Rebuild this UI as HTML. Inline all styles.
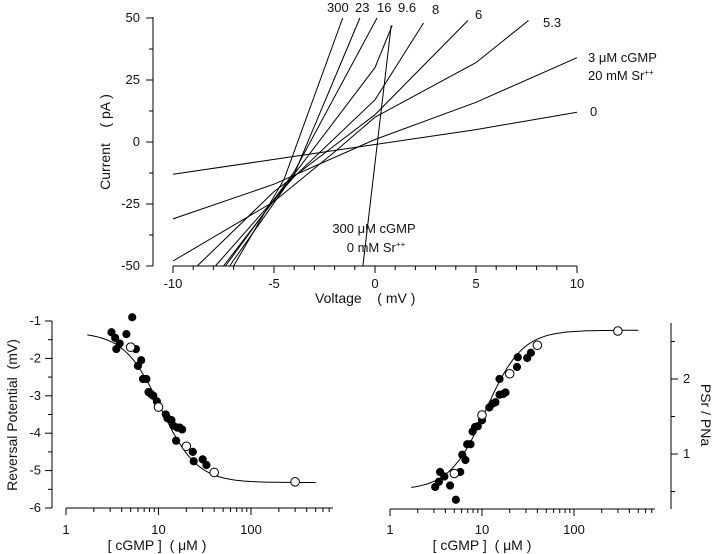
<!DOCTYPE html>
<html><head><meta charset="utf-8"><style>
html,body{margin:0;padding:0;background:#fff;}
svg{display:block;font-family:"Liberation Sans",sans-serif;}
text{fill:#111;white-space:pre;}
</style></head><body>
<svg id="fig" width="720" height="554" viewBox="0 0 720 554" xmlns="http://www.w3.org/2000/svg" xml:space="preserve"></svg>
<script>
// ---- Top panel data: I-V traces [V(mV), I(pA)] ----
const ivLabels = ["0","3","5.3","6","8","9.6","16","23","300"];
const ivTraces = [
  [[-10,-13],[-5,-7],[0,-1],[5,5],[10,12]],
  [[-10,-31],[-5,-17],[0,1],[5,16],[10,34]],
  [[-10,-48],[-5,-24],[-2,-4],[0,10],[5,32],[7.6,49]],
  [[-8.8,-50],[-5,-20],[0,11],[4.6,49]],
  [[-7.9,-50],[-4,-14],[0,17],[2.4,48]],
  [[-7.5,-50],[-4,-13],[0,30],[0.85,47]],
  [[-7.4,-50],[-4,-12],[0.1,50]],
  [[-7.2,-50],[-4,-13],[-0.75,50]],
  [[-7.0,-50],[-4.5,-15],[-1.6,50]]
];
const noSrTrace = [[-0.6,-50],[0.8,47]];
const ivXTicks = [-10,-5,0,5,10];
const ivYTicks = [-50,-25,0,25,50];
// ---- Bottom left: reversal potential ----
const erevFilledC = [3.1,3.4,3.5,3.8,4.5,5.2,5.7,6.0,6.5,6.8,7.4,7.8,8.3,8.8,9.6,12,12.5,13.8,14.5,15.5,16,17,18,23.5,24,30,33];
const erevFilledV = [-1.3,-1.45,-1.75,-1.6,-1.35,-0.9,-1.75,-2.2,-2.05,-2.55,-2.55,-2.9,-2.95,-3.0,-3.15,-3.5,-3.6,-3.65,-3.8,-4.2,-3.85,-3.85,-3.9,-4.5,-4.75,-4.7,-4.85];
const erevOpenC = [5,10,20,40,300];
const erevOpenV = [-1.7,-3.3,-4.35,-5.05,-5.3];
const erevYTicks = [-1,-2,-3,-4,-5,-6];
// ---- Bottom right: permeability ratio ----
const ratioFilledC = [3.1,3.4,3.5,3.9,4.5,5.2,5.8,6.1,6.6,6.9,7.5,7.9,8.4,9,10,12,13,14,15.5,15.5,17,18,24,24.5,31,34];
const ratioFilledV = [0.56,0.63,0.76,0.70,0.58,0.39,0.76,0.99,0.92,1.13,1.13,1.30,1.36,1.37,1.45,1.62,1.67,1.69,2.0,1.79,1.80,1.82,2.16,2.29,2.28,2.35];
const ratioOpenC = [5,10,20,40,300];
const ratioOpenV = [0.74,1.52,2.07,2.45,2.64];
const ratioYTicks = [1,2];
const decadeLabels = [1,10,100];

const NS="http://www.w3.org/2000/svg";
const svg=document.getElementById('fig');
function el(tag,attrs,parent){const e=document.createElementNS(NS,tag);for(const k in attrs)e.setAttribute(k,attrs[k]);(parent||svg).appendChild(e);return e;}
function txt(s,x,y,attrs,parent){const t=el('text',Object.assign({x:x,y:y,'font-size':13},attrs||{}),parent);t.textContent=s;return t;}

// ===== TOP PANEL =====
const gTop=el('g',{});


const vx=v=>375+v*20.2, iy=i=>142-i*2.48;
el('line',{x1:153,y1:17,x2:153,y2:266,stroke:'#000','stroke-width':1},gTop);
el('line',{x1:173,y1:266,x2:577,y2:266,stroke:'#000','stroke-width':1},gTop);
for(let v=-10;v<=10;v++){const big=v%5===0;el('line',{x1:vx(v),y1:266,x2:vx(v),y2:266+(big?7:4),stroke:'#000'},gTop);}
ivXTicks.forEach(v=>{const t=txt(String(v),vx(v),288,{'text-anchor':'middle'},gTop);});
for(let i=-50;i<=50;i+=12.5){const big=i%25===0;el('line',{x1:153,y1:iy(i),x2:153-(big?7:4),y2:iy(i),stroke:'#000'},gTop);}
ivYTicks.forEach(i=>{const t=txt(String(i),140,iy(i)+4,{'text-anchor':'end'},gTop);});
const yt=txt('Current    ( pA )',0,0,{'text-anchor':'middle','font-size':14,transform:'translate(110,142) rotate(-90)'},gTop);

const xt=txt('Voltage    ( mV )',315,303,{'font-size':14},gTop);

function poly(pts,fx,fy,parent,name){const p=el('polyline',{points:pts.map(q=>fx(q[0]).toFixed(1)+','+fy(q[1]).toFixed(1)).join(' '),fill:'none',stroke:'#000','stroke-width':1},parent);return p;}
ivTraces.forEach((tr,k)=>{poly(tr,vx,iy,gTop,'iv-trace-'+ivLabels[k].replace('.','-'));});
poly(noSrTrace,vx,iy,gTop,'iv-trace-no-sr');
const lab=[["300",327,12],["23",355,12],["16",377,12],["9.6",398,12],["8",432,14],["6",475,19],["5.3",543,27],["0",590,116]];
lab.forEach(l=>{const t=txt(l[0],l[1],l[2],{},gTop);});
let t1=txt('3 μM cGMP',588,62,{},gTop);
let t2=el('text',{x:588,y:80,'font-size':13},gTop);t2.innerHTML='20 mM Sr<tspan font-size="8" dy="-5">++</tspan>';
let t3=txt('300 μM cGMP',374,233,{'text-anchor':'middle'},gTop);
let t4=el('text',{x:376,y:252,'font-size':13,'text-anchor':'middle'},gTop);t4.innerHTML='0 mM Sr<tspan font-size="8" dy="-5">++</tspan>';

// ===== LOG X AXIS helper =====
function logAxis(g,x0,dec,y,xEnd,labY,titleX){
  el('line',{x1:x0,y1:y,x2:xEnd,y2:y,stroke:'#000'},g);
  for(let d=0;d<3;d++)for(let m=1;m<10;m++){const x=x0+(d+Math.log10(m))*dec;if(x>xEnd+0.5)continue;el('line',{x1:x,y1:y,x2:x,y2:y+(m===1?7:4),stroke:'#000'},g);}
  decadeLabels.forEach((v,i)=>{const t=txt(String(v),x0+i*dec,labY,{'text-anchor':'middle'},g);});
  const t=txt('[ cGMP ]  ( μM )',titleX,550,{'text-anchor':'middle','font-size':14},g);
}
function dots(g,cs,vs,fx,fy,open,name){cs.forEach((c,i)=>{const d=el('circle',{cx:fx(c),cy:fy(vs[i]),r:open?4.3:3.6,fill:open?'#fff':'#000',stroke:'#000','stroke-width':1},g);});}
function hill(c,top,bot,K,n){return bot+(top-bot)/(1+Math.pow(c/K,n));}

// ===== BOTTOM LEFT =====
const gL=el('g',{});


const lx=c=>66+Math.log10(c)*92.5, ly=v=>321+(-1-v)*37.4;
el('line',{x1:52,y1:321,x2:52,y2:508,stroke:'#000'},gL);
for(let v=-1;v>=-6;v-=0.5){el('line',{x1:52,y1:ly(v),x2:52-(Number.isInteger(v)?7:4),y2:ly(v),stroke:'#000'},gL);}
erevYTicks.forEach(v=>{const t=txt(String(v),41,ly(v)+4,{'text-anchor':'end'},gL);});
const ylL=txt('Reversal Potential  (mV)',0,0,{'text-anchor':'middle','font-size':14,transform:'translate(17,415) rotate(-90)'},gL);

logAxis(gL,66,92.5,508,333,534,157);
const fitL=[];for(let k=0;k<=80;k++){const c=Math.pow(10,Math.log10(1.7)+k*(Math.log10(500)-Math.log10(1.7))/80);fitL.push([c,hill(c,-1.3,-5.32,10.5,2.2)]);}
poly(fitL,lx,ly,gL,'fit-curve');
dots(gL,erevFilledC,erevFilledV,lx,ly,false,'data-point-filled');
dots(gL,erevOpenC,erevOpenV,lx,ly,true,'data-point-open');

// ===== BOTTOM RIGHT =====
const gR=el('g',{});


const rx=c=>390+Math.log10(c)*92, ry=v=>454-(v-1)*75;
el('line',{x1:671,y1:323,x2:671,y2:509,stroke:'#000'},gR);
[0.5,1,1.5,2,2.5].forEach(v=>{el('line',{x1:671,y1:ry(v),x2:671+(Number.isInteger(v)?7:4),y2:ry(v),stroke:'#000'},gR);});
ratioYTicks.forEach(v=>{const t=txt(String(v),683,ry(v)+4,{},gR);});
const ylR=txt('PSr / PNa',0,0,{'text-anchor':'middle','font-size':14,transform:'translate(701,415) rotate(90)'},gR);

logAxis(gR,390,92,509,655,534,482);
const fitR=[];for(let k=0;k<=80;k++){const c=Math.pow(10,Math.log10(1.7)+k*(Math.log10(500)-Math.log10(1.7))/80);fitR.push([c,hill(c,0.52,2.65,11,2.2)]);}
poly(fitR,rx,ry,gR,'fit-curve');
dots(gR,ratioFilledC,ratioFilledV,rx,ry,false,'data-point-filled');
dots(gR,ratioOpenC,ratioOpenV,rx,ry,true,'data-point-open');
</script>
</body></html>
